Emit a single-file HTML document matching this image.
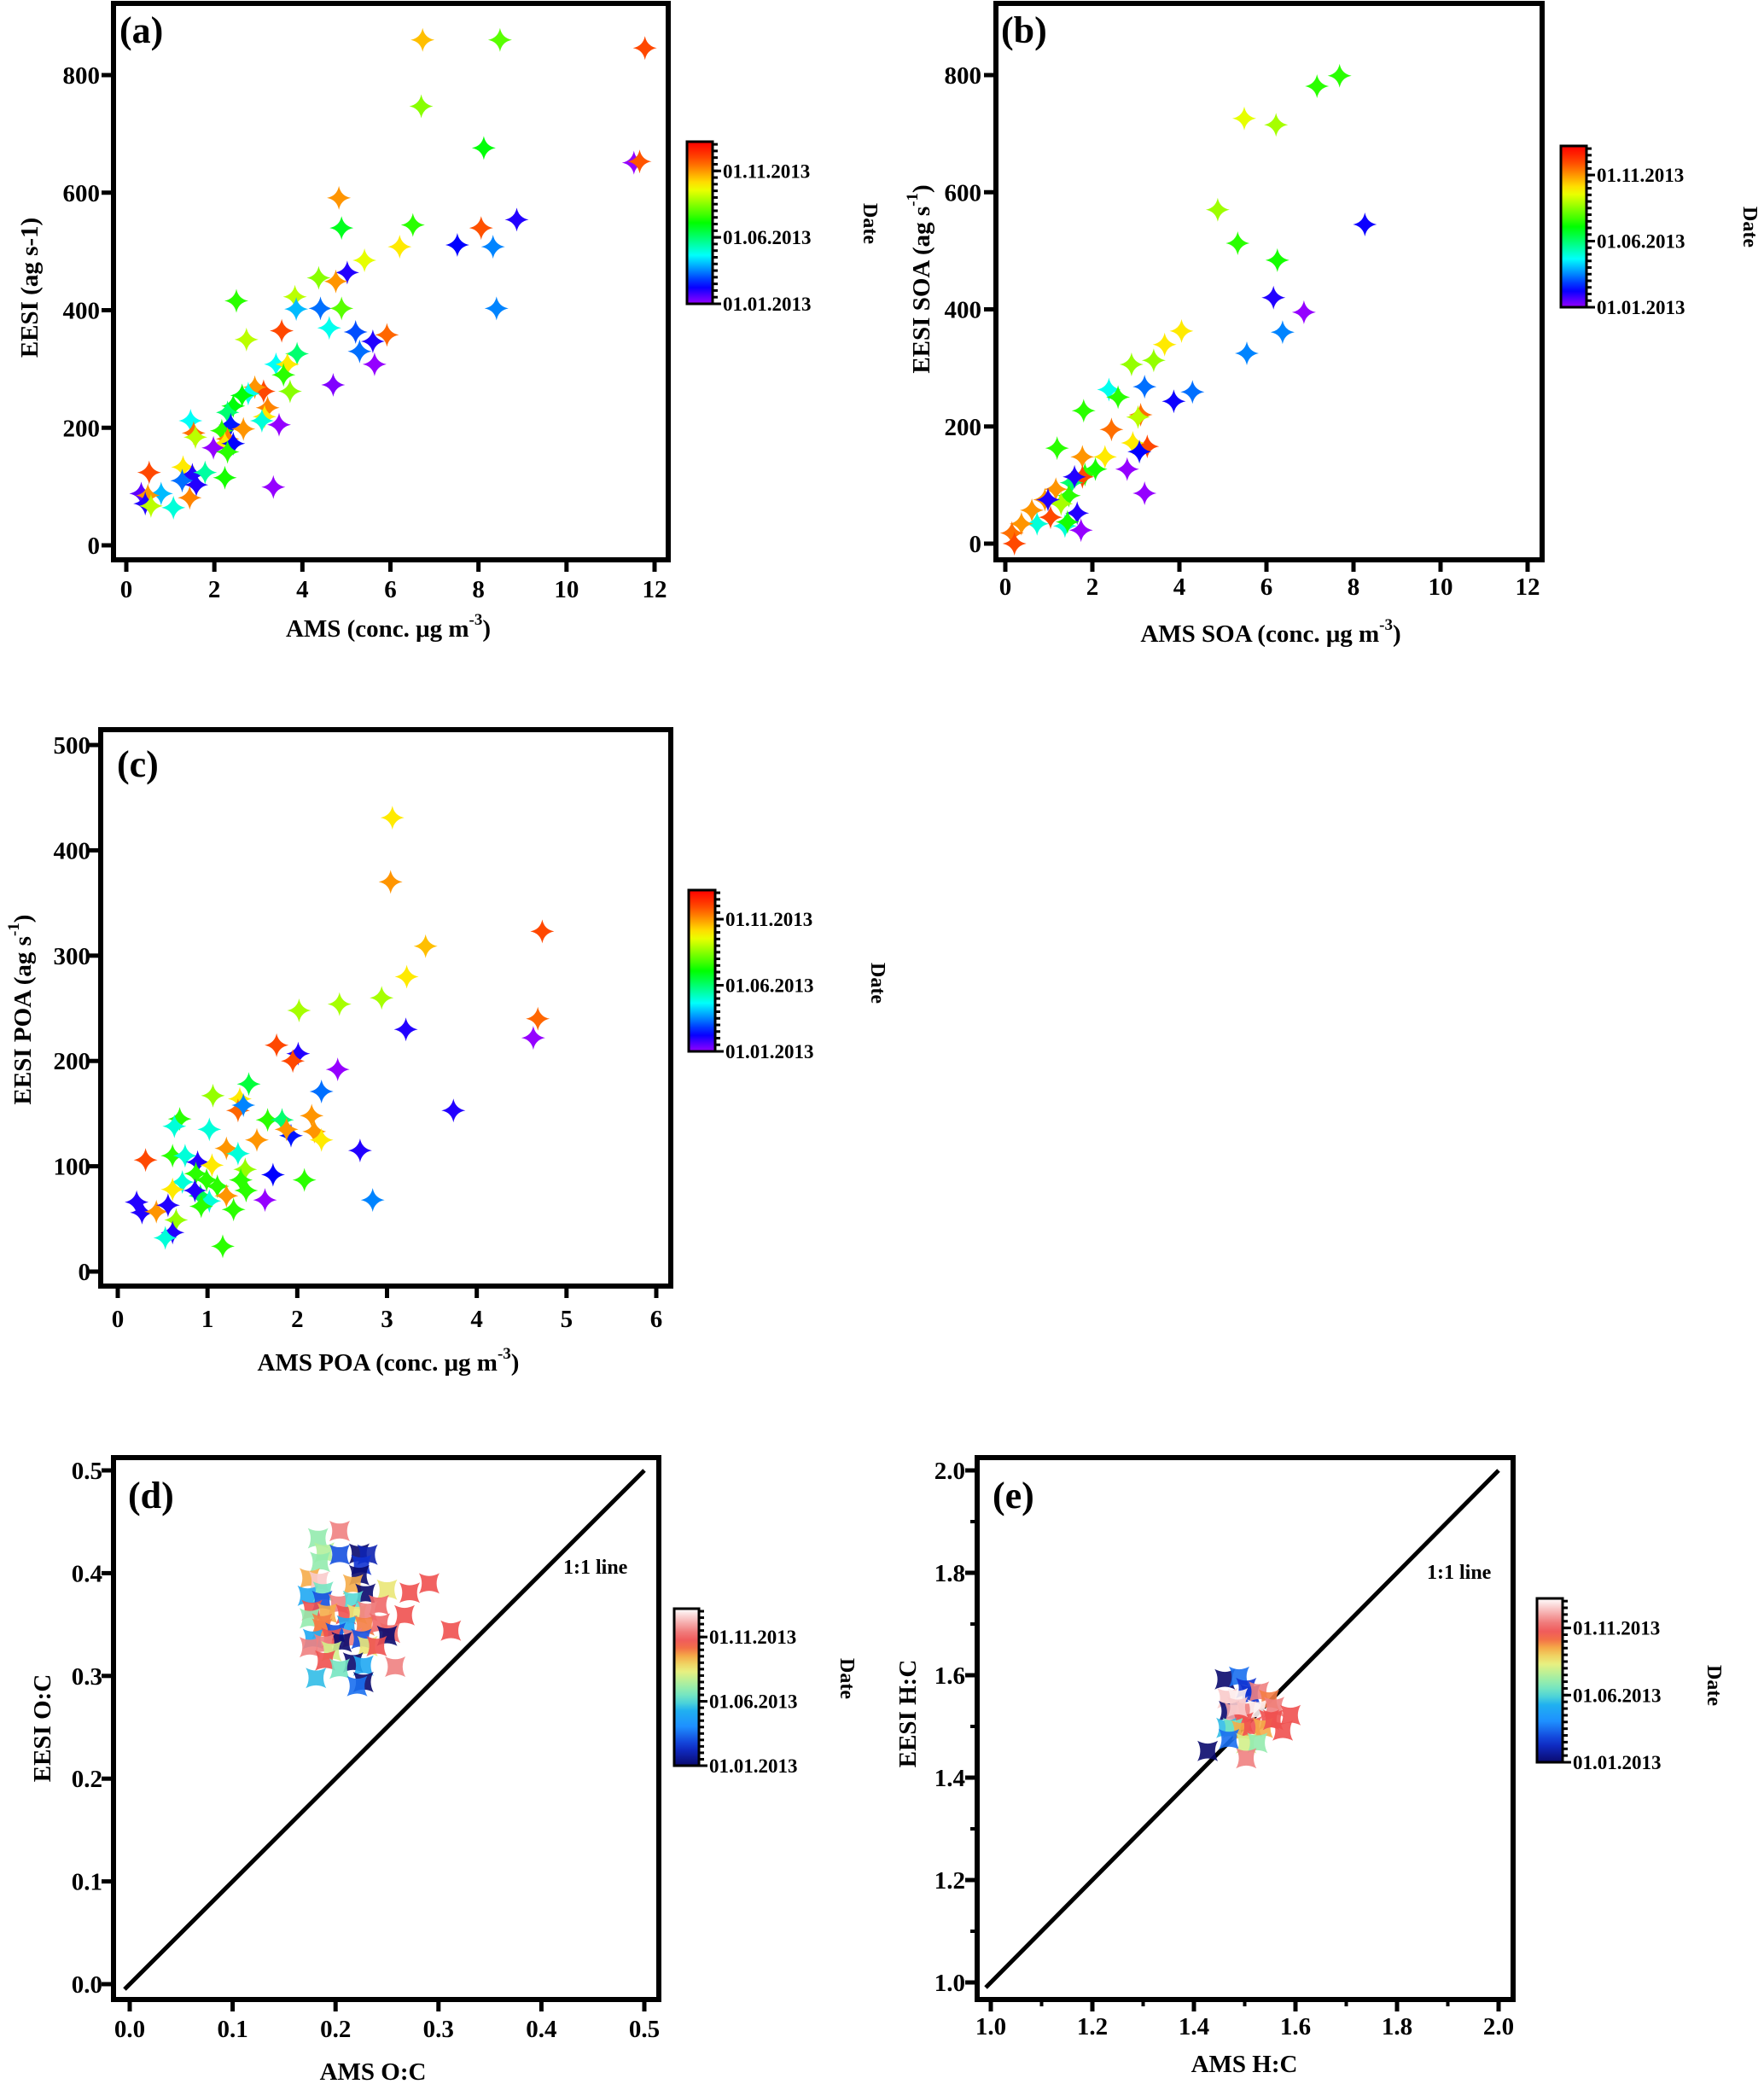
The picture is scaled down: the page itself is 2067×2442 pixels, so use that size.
<!DOCTYPE html>
<html><head><meta charset="utf-8">
<style>
html,body{margin:0;padding:0;background:#fff;}
svg{display:block;font-family:"Liberation Serif",serif;font-weight:bold;}
</style></head>
<body>
<svg id="fig" width="2067" height="2442" viewBox="0 0 2067 2442" xmlns="http://www.w3.org/2000/svg"></svg>
<script>
// ---- data (month of year as date value, 1=Jan) ----
const aX=[6.73,8.49,11.78,6.70,8.12,11.53,11.66,4.83,4.89,6.51,8.87,8.06,6.21,7.52,8.33,5.41,4.37,5.02,4.76,2.50,3.83,3.86,4.41,4.89,8.41,3.53,4.61,5.21,5.92,5.60,5.30,5.64,2.73,3.88,3.40,3.66,3.57,3.72,4.70,3.12,2.92,2.77,2.63,2.43,2.30,3.21,3.14,3.08,3.47,2.37,2.66,1.46,1.53,1.57,2.17,2.30,2.24,2.43,1.98,2.30,0.52,1.29,1.50,1.79,1.27,1.59,2.24,3.34,0.34,0.79,0.49,1.44,0.43,0.56,1.07];
const aY=[860,860,846,747,676,651,653,591,540,545,554,540,508,511,508,485,455,464,449,416,423,402,403,403,403,365,370,363,358,347,330,308,350,326,308,308,290,262,273,262,269,258,255,237,226,234,219,212,205,205,198,212,191,184,195,181,173,173,166,159,124,133,120,124,110,103,115,99,88,88,85,81,71,67,64];
const aM=[10.5,8,12,8.5,7,1,11.8,11,6.8,7.5,2,11.9,10,2.3,3.5,9.5,8.5,2,11,7.5,9,4,3.3,8,3.5,12,4.8,3,11.6,2,3.3,1,9,6,4.7,10,7.5,8.5,1.2,12,11,4.8,7,7,6,11.2,10,5,1,2.5,11,4.7,11.5,9,7.5,11.3,10,2.3,1,7.5,12,10,2,5.5,3.3,2,7.3,1,1.5,4,11,11.2,2,9,5];

const bX=[7.68,7.16,5.49,6.22,4.88,5.34,6.25,8.26,6.16,6.86,6.37,5.55,4.05,3.66,3.41,2.90,3.87,4.30,3.20,2.38,2.59,1.80,1.19,2.44,3.11,3.26,2.93,3.08,2.80,3.20,3.05,2.29,2.07,1.77,1.83,1.77,1.52,1.46,1.16,0.91,1.28,0.61,1.04,0.73,1.65,1.74,1.37,0.37,0.15,0.21,0.98,1.59,1.43];
const bY=[799,781,726,715,570,513,484,545,420,395,361,325,363,340,313,306,243,259,268,263,250,227,163,195,220,166,172,157,127,86,216,148,127,148,118,114,104,82,93,75,68,57,45,34,52,23,30,34,18,0,75,114,37];
const bM=[7.5,7.5,9.5,8.8,8.7,7.5,7.3,2.2,2,1,3.5,3.5,10,10,8.6,8.6,2.2,3.3,3.3,4.8,7.5,7.5,7.5,11.5,11.5,12,10,2.3,1,1,9,10,7.3,11,7.5,12,6,7.5,11,11,8.8,11,12,5,2,1,5,11,11.5,12,2,2,7.3];

const cX=[3.06,3.04,4.73,3.43,3.22,4.68,4.63,3.21,2.94,2.47,2.02,2.45,1.77,2.01,1.95,2.27,3.74,1.46,1.06,1.36,1.34,1.40,2.16,1.67,1.83,0.69,0.63,1.02,1.93,2.19,2.27,1.88,1.55,2.70,1.21,1.34,0.61,0.75,0.31,0.89,1.05,1.42,1.37,1.73,2.08,0.87,0.72,0.99,0.61,1.11,1.43,1.21,1.64,0.92,1.02,0.93,1.29,0.21,0.27,0.43,0.56,0.65,0.61,0.53,1.17,2.84,0.86];
const cY=[431,370,323,309,280,240,222,230,260,254,248,192,215,207,200,171,153,178,167,164,153,158,148,144,144,145,138,135,129,133,125,135,125,115,117,112,110,110,106,104,101,97,87,92,87,93,85,87,78,81,77,72,68,72,67,62,59,66,56,57,63,49,37,32,24,68,77];
const cM=[10,11,12,10.5,10,11.6,1,2,8.8,8.8,8.8,1,12,2,12,3.3,2,6.5,8.6,10,11.6,3.5,11,7.5,6,7.5,5,5,2.5,11,10,11,11,2,11,5,7.5,5,12,2,10,8.6,7.5,2.3,7.5,7.5,5,7.5,10,7.5,7.5,11,1,6.3,5,7.5,7.5,2,2,11,2,8.6,2,5,7.5,3.5,2];

const dX=[0.204,0.183,0.189,0.204,0.223,0.231,0.185,0.225,0.223,0.175,0.184,0.217,0.291,0.250,0.272,0.229,0.173,0.188,0.187,0.203,0.217,0.242,0.177,0.192,0.210,0.221,0.231,0.267,0.175,0.187,0.211,0.228,0.243,0.187,0.200,0.253,0.250,0.312,0.178,0.196,0.216,0.225,0.206,0.175,0.189,0.231,0.240,0.196,0.190,0.217,0.227,0.204,0.258,0.181,0.227,0.221];
const dY=[0.441,0.434,0.420,0.418,0.419,0.418,0.411,0.408,0.398,0.395,0.392,0.389,0.390,0.384,0.381,0.380,0.378,0.382,0.373,0.370,0.373,0.369,0.364,0.361,0.360,0.360,0.363,0.359,0.356,0.351,0.349,0.349,0.351,0.346,0.342,0.342,0.339,0.344,0.336,0.337,0.337,0.336,0.333,0.328,0.331,0.329,0.329,0.324,0.315,0.313,0.310,0.307,0.309,0.298,0.294,0.290];
const dM=[11.5,7,7.5,3,1,2,7,2.5,1,9.5,12.5,9.5,10.5,8.5,10.5,1,5,6.5,3,11.5,6,11,10.5,9.5,10.5,8.5,11.5,10.5,7,10,5,10,11,10,3,11,1,10.5,5,10.5,11.5,3,1,11.5,11.5,8.5,10.5,8,10.5,1,5,6.5,11.5,5.5,1,3.5];

const eX=[1.461,1.489,1.503,1.511,1.528,1.466,1.486,1.548,1.469,1.480,1.503,1.525,1.558,1.590,1.548,1.497,1.464,1.477,1.494,1.514,1.536,1.575,1.469,1.503,1.525,1.427,1.503,1.556,1.486];
const eY=[1.592,1.597,1.575,1.563,1.568,1.555,1.555,1.552,1.530,1.527,1.530,1.533,1.538,1.522,1.513,1.508,1.497,1.497,1.492,1.500,1.497,1.492,1.475,1.467,1.468,1.452,1.438,1.513,1.538];
const eM=[1,3.5,2.5,2.5,11.5,12.5,13,10,1,12,11.5,13,11.5,10.5,10.5,10.5,5.5,6.5,9.5,10.5,9.5,10.5,3.5,8,7,1,11.5,10.5,12.5];

const xTicksA=[0,2,4,6,8,10,12], yTicksA=[0,200,400,600,800];
const xTicksC=[0,1,2,3,4,5,6], yTicksC=[0,100,200,300,400,500];
const ticksD=[0.0,0.1,0.2,0.3,0.4,0.5];
const ticksE=[1.0,1.2,1.4,1.6,1.8,2.0];
const cbLabels=["01.01.2013","01.06.2013","01.11.2013"];
const cbMonths=[1,6,11];

const NS="http://www.w3.org/2000/svg";
const svg=document.getElementById('fig');
function mk(tag,attrs,parent){const e=document.createElementNS(NS,tag);for(const k in attrs)e.setAttribute(k,attrs[k]);(parent||svg).appendChild(e);return e;}
function frac(m){return Math.max(0,Math.min(1,(m-1)/12.2));}
function rainbow(f){return 'hsl('+(275*Math.pow(1-f,1.2)).toFixed(0)+',100%,50%)';}
const jetStops=[[0,[10,10,110]],[0.12,[16,48,208]],[0.25,[30,144,255]],[0.35,[32,176,240]],[0.42,[94,224,208]],[0.52,[168,240,160]],[0.6,[232,240,128]],[0.68,[245,192,80]],[0.72,[245,144,64]],[0.78,[240,80,80]],[0.86,[240,128,128]],[0.93,[248,192,192]],[1,[255,255,255]]];
function jet(f){for(let i=1;i<jetStops.length;i++){if(f<=jetStops[i][0]){const a=jetStops[i-1],b=jetStops[i];const t=(f-a[0])/(b[0]-a[0]);const c=a[1].map((v,j)=>Math.round(v+(b[1][j]-v)*t));return 'rgb('+c.join(',')+')';}}return 'rgb(255,255,255)';}

function sparkle(r){const s=r*0.16;return `M0,${-r} Q${s},${-s} ${r},0 Q${s},${s} 0,${r} Q${-s},${s} ${-r},0 Q${-s},${-s} 0,${-r}Z`;}
function fatStar(r){const c=r*0.45;return `M${-r},${-r} Q0,${-c} ${r},${-r} Q${c},0 ${r},${r} Q0,${c} ${-r},${r} Q${-c},0 ${-r},${-r}Z`;}

function panel(p){
  const g=mk('g',{});
  
  
  const sx=v=>p.xpx[0]+(v-p.xd[0])/(p.xd[1]-p.xd[0])*(p.xpx[1]-p.xpx[0]);
  const sy=v=>p.ypx[0]+(v-p.yd[0])/(p.yd[1]-p.yd[0])*(p.ypx[1]-p.ypx[0]);
  const [fl,ft,fr,fb]=p.frame;
  if(p.oneToOne){
    const ln=mk('line',{x1:sx(p.xd[0]-0.01*(p.xd[1]-p.xd[0])),y1:sy(p.yd[0]-0.01*(p.yd[1]-p.yd[0])),x2:sx(p.xd[1]),y2:sy(p.yd[1]),stroke:'#000','stroke-width':5},g);
    
    
    const lt=mk('text',{x:p.lineLbl[0],y:p.lineLbl[1],'font-size':24},g);lt.textContent='1:1 line';
    
    
  }
  for(let i=0;i<p.X.length;i++){
    const f=frac(p.M[i]);
    const pt=mk('path',{d:p.fat?fatStar(12):sparkle(14),transform:`translate(${sx(p.X[i]).toFixed(1)},${sy(p.Y[i]).toFixed(1)})`,fill:p.fat?jet(f):rainbow(f),'fill-opacity':p.fat?0.9:1},g);
    
    
  }
  const fr_=mk('rect',{x:fl,y:ft,width:fr-fl,height:fb-ft,fill:'none',stroke:'#000','stroke-width':6},g);
  
  
  p.xt.forEach(v=>{const x=sx(v);mk('line',{x1:x,y1:fb,x2:x,y2:fb+14,stroke:'#000','stroke-width':5},g);
    const t=mk('text',{x:x,y:p.xtY,'font-size':29,'text-anchor':'middle'},g);t.textContent=p.fmt?v.toFixed(1):v;
    
    });
  if(p.minor){for(let i=0;i<p.xt.length-1;i++){const x=sx((p.xt[i]+p.xt[i+1])/2);mk('line',{x1:x,y1:fb,x2:x,y2:fb+8,stroke:'#000','stroke-width':4},g);const y=sy((p.yt[i]+p.yt[i+1])/2);mk('line',{x1:fl,y1:y,x2:fl-8,y2:y,stroke:'#000','stroke-width':4},g);}}
  p.yt.forEach(v=>{const y=sy(v);mk('line',{x1:fl,y1:y,x2:fl-14,y2:y,stroke:'#000','stroke-width':5},g);
    const t=mk('text',{x:p.ytX,y:y+10,'font-size':29,'text-anchor':'end'},g);t.textContent=p.fmt?v.toFixed(1):v;
    
    });
  const xt=mk('text',{x:p.xTitle[0],y:p.xTitle[1],'font-size':29,'text-anchor':'middle'},g);xt.innerHTML=p.xTitleTxt;
  
  
  const yt=mk('text',{x:0,y:0,'font-size':29,'text-anchor':'middle',transform:`translate(${p.yTitle[0]},${p.yTitle[1]}) rotate(-90)`},g);yt.innerHTML=p.yTitleTxt;
  
  
  const pl=mk('text',{x:p.lbl[0],y:p.lbl[1],'font-size':44},g);pl.textContent=p.lblTxt;
  
  
  const [cl,ct,cr,cb]=p.cb;const gid='grad'+p.lblTxt.replace(/\W/g,'');
  const defs=mk('defs',{},g);const lg=mk('linearGradient',{id:gid,x1:0,y1:1,x2:0,y2:0},defs);
  for(let k=0;k<=20;k++){const f=k/20;mk('stop',{offset:f,'stop-color':p.fat?jet(f):rainbow(f)},lg);}
  const cbr=mk('rect',{x:cl,y:ct,width:cr-cl,height:cb-ct,fill:`url(#${gid})`,stroke:'#000','stroke-width':3},g);
  
  
  const cy=m=>cb-frac(m)*(cb-ct);
  for(let m=1;m<=13;m+=0.5){mk('line',{x1:cr,y1:cy(m),x2:cr+6,y2:cy(m),stroke:'#000','stroke-width':3},g);}
  cbLabels.forEach((s,i)=>{const y=cy(cbMonths[i]);mk('line',{x1:cr,y1:y,x2:cr+10,y2:y,stroke:'#000','stroke-width':3},g);
    const t=mk('text',{x:cr+12,y:y+8,'font-size':23},g);t.textContent=s;
    
    });
  const dt=mk('text',{x:0,y:0,'font-size':24,'text-anchor':'middle',transform:`translate(${p.date[0]},${p.date[1]}) rotate(90)`},g);dt.textContent='Date';
  
  
}
const sup='<tspan dy="-14" font-size="19">-3</tspan><tspan dy="14">)</tspan>';
panel({name:'panel-a',X:aX,Y:aY,M:aM,frame:[133,4,783,656],xpx:[148,767],xd:[0,12],ypx:[639,88],yd:[0,800],xt:xTicksA,yt:yTicksA,xtY:700,ytX:117,
  xTitle:[455,746],xTitleTxt:'AMS  (conc. μg m'+sup,yTitle:[44,337],yTitleTxt:'EESI (ag s-1)',lbl:[140,50],lblTxt:'(a)',cb:[805,166,835,356],date:[1012,262]});
panel({name:'panel-b',X:bX,Y:bY,M:bM,frame:[1167,4,1807,656],xpx:[1178,1790],xd:[0,12],ypx:[637,88],yd:[0,800],xt:xTicksA,yt:yTicksA,xtY:697,ytX:1150,
  xTitle:[1489,752],xTitleTxt:'AMS SOA  (conc. μg m'+sup,yTitle:[1089,327],yTitleTxt:'EESI SOA (ag s<tspan dy="-14" font-size="19">-1</tspan><tspan dy="14">)</tspan>',lbl:[1173,50],lblTxt:'(b)',cb:[1829,171,1859,360],date:[2043,266]});
panel({name:'panel-c',X:cX,Y:cY,M:cM,frame:[118,855,786,1507],xpx:[138,769],xd:[0,6],ypx:[1490,873],yd:[0,500],xt:xTicksC,yt:yTicksC,xtY:1555,ytX:106,
  xTitle:[455,1606],xTitleTxt:'AMS POA  (conc. μg m'+sup,yTitle:[36,1183],yTitleTxt:'EESI POA (ag s<tspan dy="-14" font-size="19">-1</tspan><tspan dy="14">)</tspan>',lbl:[137,910],lblTxt:'(c)',cb:[807,1043,838,1232],date:[1021,1152]});
panel({name:'panel-d',X:dX,Y:dY,M:dM,fat:true,fmt:true,oneToOne:true,lineLbl:[660,1844],frame:[133,1708,772,2343],xpx:[152,755],xd:[0,0.5],ypx:[2325,1723],yd:[0,0.5],xt:ticksD,yt:ticksD,xtY:2387,ytX:120,
  xTitle:[437,2437],xTitleTxt:'AMS O:C',yTitle:[59,2025],yTitleTxt:'EESI O:C',lbl:[150,1767],lblTxt:'(d)',cb:[790,1885,819,2069],date:[985,1967]});
panel({name:'panel-e',X:eX,Y:eY,M:eM,fat:true,fmt:true,oneToOne:true,minor:true,lineLbl:[1672,1850],frame:[1145,1708,1773,2343],xpx:[1161,1756],xd:[1,2],ypx:[2323,1723],yd:[1,2],xt:ticksE,yt:ticksE,xtY:2384,ytX:1131,
  xTitle:[1458,2428],xTitleTxt:'AMS H:C',yTitle:[1073,2008],yTitleTxt:'EESI H:C',lbl:[1163,1767],lblTxt:'(e)',cb:[1801,1873,1831,2065],date:[2001,1975]});
</script>
</body></html>
